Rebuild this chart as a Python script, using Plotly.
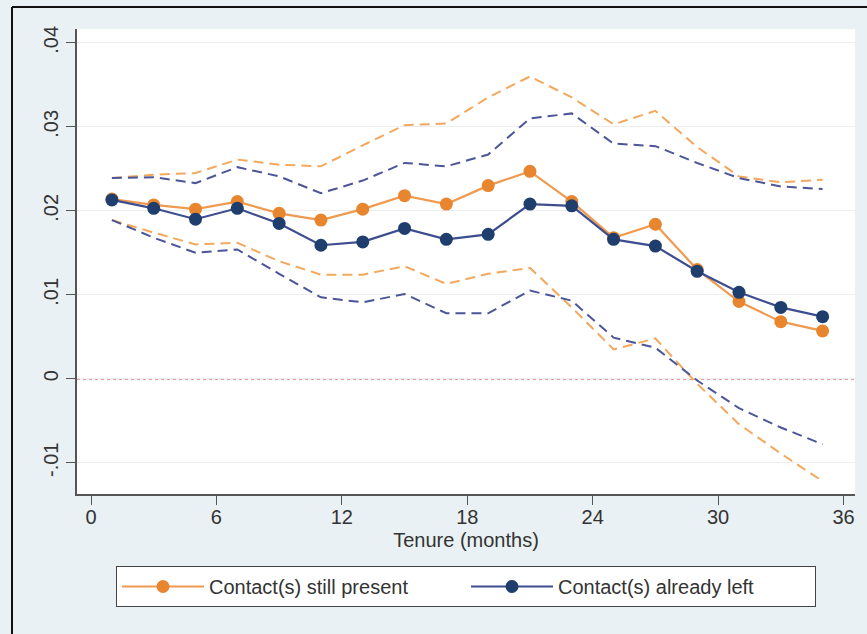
import plotly.graph_objects as go

# Tenure in months (odd months)
months = [1, 3, 5, 7, 9, 11, 13, 15, 17, 19, 21, 23, 25, 27, 29, 31, 33, 35]

# Contact(s) still present: point estimate and 95% bounds
present = [0.0214, 0.0207, 0.0202, 0.0211, 0.0197, 0.0189, 0.0202, 0.0218, 0.0208,
           0.0230, 0.0247, 0.0211, 0.0168, 0.0184, 0.0130, 0.0092, 0.0068, 0.0057]
present_hi = [0.0239, 0.0243, 0.0245, 0.0261, 0.0255, 0.0253, 0.0278, 0.0302, 0.0304,
              0.0335, 0.0360, 0.0335, 0.0303, 0.0319, 0.0276, 0.0241, 0.0234, 0.0237]
present_lo = [0.0189, 0.0174, 0.0160, 0.0162, 0.0140, 0.0124, 0.0124, 0.0134, 0.0113,
              0.0125, 0.0132, 0.0085, 0.0035, 0.0048, -0.0006, -0.0054, -0.0089, -0.0122]

# Contact(s) already left: point estimate and 95% bounds
left = [0.0213, 0.0203, 0.0190, 0.0203, 0.0185, 0.0159, 0.0163, 0.0179, 0.0166,
        0.0172, 0.0208, 0.0206, 0.0166, 0.0158, 0.0128, 0.0103, 0.0085, 0.0074]
left_hi = [0.0239, 0.0240, 0.0233, 0.0252, 0.0241, 0.0221, 0.0236, 0.0257, 0.0253,
           0.0267, 0.0310, 0.0316, 0.0280, 0.0277, 0.0257, 0.0239, 0.0229, 0.0226]
left_lo = [0.0189, 0.0168, 0.0150, 0.0154, 0.0125, 0.0097, 0.0091, 0.0101, 0.0078,
           0.0078, 0.0105, 0.0093, 0.0049, 0.0037, -0.0002, -0.0035, -0.0058, -0.0078]

x_ticks = [0, 6, 12, 18, 24, 30, 36]
y_ticks = [-0.01, 0, 0.01, 0.02, 0.03, 0.04]
y_labels = ["-.01", "0", ".01", ".02", ".03", ".04"]

ORANGE_LINE = "#ef9a4e"
ORANGE_MARK = "#e8852f"
ORANGE_DASH = "#f3a85e"
BLUE_LINE = "#3d4d8e"
BLUE_MARK = "#1f3e6e"
BLUE_DASH = "#4b5598"

fig = go.Figure()

# confidence bounds (dashed)
for ys, col in [(present_hi, ORANGE_DASH), (present_lo, ORANGE_DASH),
                (left_hi, BLUE_DASH), (left_lo, BLUE_DASH)]:
    fig.add_trace(go.Scatter(x=months, y=ys, mode="lines", showlegend=False,
                             line=dict(color=col, width=2, dash="10px,6px"),
                             hoverinfo="skip"))

# point estimates
fig.add_trace(go.Scatter(x=months, y=present, mode="lines+markers",
                         name="Contact(s) still present",
                         line=dict(color=ORANGE_LINE, width=2.2),
                         marker=dict(color=ORANGE_MARK, size=13)))
fig.add_trace(go.Scatter(x=months, y=left, mode="lines+markers",
                         name="Contact(s) already left",
                         line=dict(color=BLUE_LINE, width=2.2),
                         marker=dict(color=BLUE_MARK, size=13)))

PLOT_L, PLOT_R, PLOT_T, PLOT_B = 77, 855, 29, 494
W, H = 867, 634
pw, ph = PLOT_R - PLOT_L, PLOT_B - PLOT_T

def px_x(p):
    return (p - PLOT_L) / pw

def px_y(p):
    return (PLOT_B - p) / ph

shapes = [
    # reference line at zero
    dict(type="line", xref="paper", yref="y", x0=0, x1=1, y0=0, y1=0,
         line=dict(color="#d23c3c", width=1.2, dash="dot"), layer="below"),
    # outer frame (left and top edges)
    dict(type="line", xref="paper", yref="paper", x0=px_x(12), x1=px_x(12),
         y0=px_y(7), y1=px_y(H + 5), line=dict(color="#111111", width=2)),
    dict(type="line", xref="paper", yref="paper", x0=px_x(12), x1=px_x(W + 5),
         y0=px_y(7), y1=px_y(7), line=dict(color="#111111", width=2)),
]

font_family = "Liberation Sans, Arial, sans-serif"
FS = 20

fig.update_layout(
    width=W, height=H,
    margin=dict(l=PLOT_L, r=W - PLOT_R, t=PLOT_T, b=H - PLOT_B),
    paper_bgcolor="#e9f1f4",
    plot_bgcolor="#ffffff",
    font=dict(family=font_family, size=FS, color="#333333"),
    shapes=shapes,
    xaxis=dict(range=[-0.67, 36.55], tickvals=x_ticks, ticks="outside", ticklen=9,
               tickcolor="#555555", showgrid=False, zeroline=False,
               showline=True, linecolor="#555555", linewidth=1.5,
               tickfont=dict(size=FS), ticklabelstandoff=-5,
               title=dict(text="Tenure (months)", font=dict(size=FS), standoff=6)),
    yaxis=dict(range=[-0.01372, 0.04165], tickvals=y_ticks, ticktext=y_labels,
               ticks="outside", ticklen=9, tickcolor="#555555", tickangle=-90,
               showgrid=True, gridcolor="#eeeeee", gridwidth=1, zeroline=False,
               showline=True, linecolor="#555555", linewidth=1.5,
               tickfont=dict(size=FS)),
    legend=dict(orientation="h", xanchor="center", x=0.5, yanchor="top",
                y=px_y(566), bgcolor="#ffffff", bordercolor="#444444",
                borderwidth=1, itemwidth=82, entrywidth=252,
                font=dict(size=FS), tracegroupgap=0),
    showlegend=True,
)

fig.write_html("out.html")
